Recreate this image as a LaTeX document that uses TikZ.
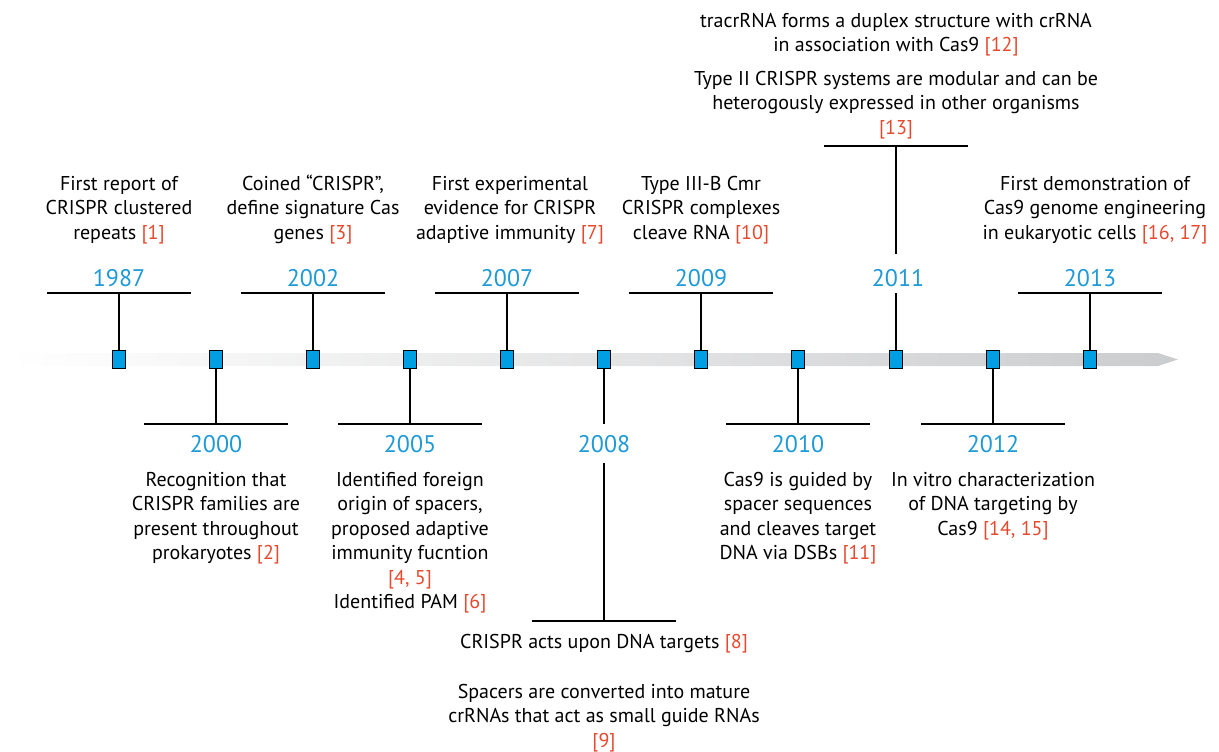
\documentclass[tikz,border=0pt]{standalone}
\usepackage{fontspec}
\setmainfont{PT Sans}
\usetikzlibrary{calc}
\definecolor{sqblue}{HTML}{009FE3}
\definecolor{yrblue}{HTML}{1E9AD6}
\definecolor{refred}{HTML}{E5492E}
\definecolor{bargray}{HTML}{CBCCCE}
\newcommand\rf[1]{\textcolor{refred}{[#1]}}
\begin{document}
\begin{tikzpicture}[x=1pt,y=-1pt,
  sq/.style={rectangle,draw=black,fill=sqblue,line width=1.5pt,minimum width=13pt,minimum height=18pt,inner sep=0pt},
  yr/.style={text=yrblue,font=\fontsize{24}{28}\selectfont,inner sep=0pt,anchor=base},
  knock/.style={fill=white,inner xsep=3pt},
  desc/.style={align=center,font=\fontsize{20}{24.5}\selectfont,inner sep=0pt,anchor=base},
  stem/.style={line width=2pt,draw=black}]
\useasboundingbox (0,0) rectangle (1219,752);
% timeline bar
\shade[left color=white,right color=bargray,draw=none]
  (8,353) -- (1158,353) -- (1178,359.5) -- (1158,366) -- (8,366) -- cycle;
% squares
\node[sq] (s1987) at (119,359.5) {};
\node[sq] (s2000) at (216,359.5) {};
\node[sq] (s2002) at (313,359.5) {};
\node[sq] (s2005) at (410,359.5) {};
\node[sq] (s2007) at (507,359.5) {};
\node[sq] (s2008) at (604,359.5) {};
\node[sq] (s2009) at (701,359.5) {};
\node[sq] (s2010) at (798,359.5) {};
\node[sq] (s2011) at (896,359.5) {};
\node[sq] (s2012) at (993,359.5) {};
\node[sq] (s2013) at (1090,359.5) {};
% bar coordinates
\coordinate (b1987) at (119,293);
\coordinate (b2002) at (313,293);
\coordinate (b2007) at (507,293);
\coordinate (b2009) at (701,293);
\coordinate (b2011) at (896,146);
\coordinate (b2013) at (1090,293);
\coordinate (b2000) at (216,424);
\coordinate (b2005) at (410,424);
\coordinate (b2008) at (604,621);
\coordinate (b2010) at (798,424);
\coordinate (b2012) at (993,424);
\foreach \y in {1987,2002,2007,2009,2011,2013}{
  \draw[stem] (s\y.north) -- (b\y);
  \draw[stem] ($(b\y)+(-72,0)$) -- ($(b\y)+(72,0)$);
}
\foreach \y in {2000,2005,2008,2010,2012}{
  \draw[stem] (s\y.south) -- (b\y);
  \draw[stem] ($(b\y)+(-72,0)$) -- ($(b\y)+(72,0)$);
}
% years
\node[yr] (y1987) at (119,286) {1987};
\node[yr] (y2002) at (313,286) {2002};
\node[yr] (y2007) at (507,286) {2007};
\node[yr] (y2009) at (701,286) {2009};
\node[yr,knock,text height=32pt,text depth=7pt] (y2011) at (898,286) {2011};
\node[yr] (y2013) at (1090,286) {2013};
\node[yr] (y2000) at (216,452) {2000};
\node[yr] (y2005) at (410,452) {2005};
\node[yr,knock,text height=28pt,text depth=11pt] (y2008) at (604,452) {2008};
\node[yr] (y2010) at (798,452) {2010};
\node[yr] (y2012) at (993,452) {2012};
% descriptions (anchor at baseline of last line)
\node[desc] (t1987) at (119,239) {First report of\\CRISPR clustered\\repeats \rf{1}};
\node[desc] (t2002) at (313,239) {Coined “CRISPR”,\\define signature Cas\\genes \rf{3}};
\node[desc] (t2007) at (510,239) {First experimental\\evidence for CRISPR\\adaptive immunity \rf{7}};
\node[desc] (t2009) at (701,239) {Type III-B Cmr\\CRISPR complexes\\cleave RNA \rf{10}};
\node[desc] (t2013) at (1095,239) {First demonstration of\\Cas9 genome engineering\\in eukaryotic cells \rf{16, 17}};
\node[desc] (t2011a) at (896,52) {tracrRNA forms a duplex structure with crRNA\\in association with Cas9 \rf{12}};
\node[desc] (t2011b) at (896,134) {Type II CRISPR systems are modular and can be\\heterogously expressed in other organisms\\\rf{13}};
\node[desc] (t2000) at (216,559.5) {Recognition that\\CRISPR families are\\present throughout\\prokaryotes \rf{2}};
\node[desc] (t2005) at (410,608.5) {Identified foreign\\origin of spacers,\\proposed adaptive\\immunity fucntion\\\rf{4, 5}\\Identified PAM \rf{6}};
\node[desc] (t2008a) at (604,648) {CRISPR acts upon DNA targets \rf{8}};
\node[desc] (t2008b) at (604,747) {Spacers are converted into mature\\crRNAs that act as small guide RNAs\\\rf{9}};
\node[desc] (t2010) at (798,559.5) {Cas9 is guided by\\spacer sequences\\and cleaves target\\DNA via DSBs \rf{11}};
\node[desc] (t2012) at (993,535) {In vitro characterization\\of DNA targeting by\\Cas9 \rf{14, 15}};
\end{tikzpicture}
\end{document}
